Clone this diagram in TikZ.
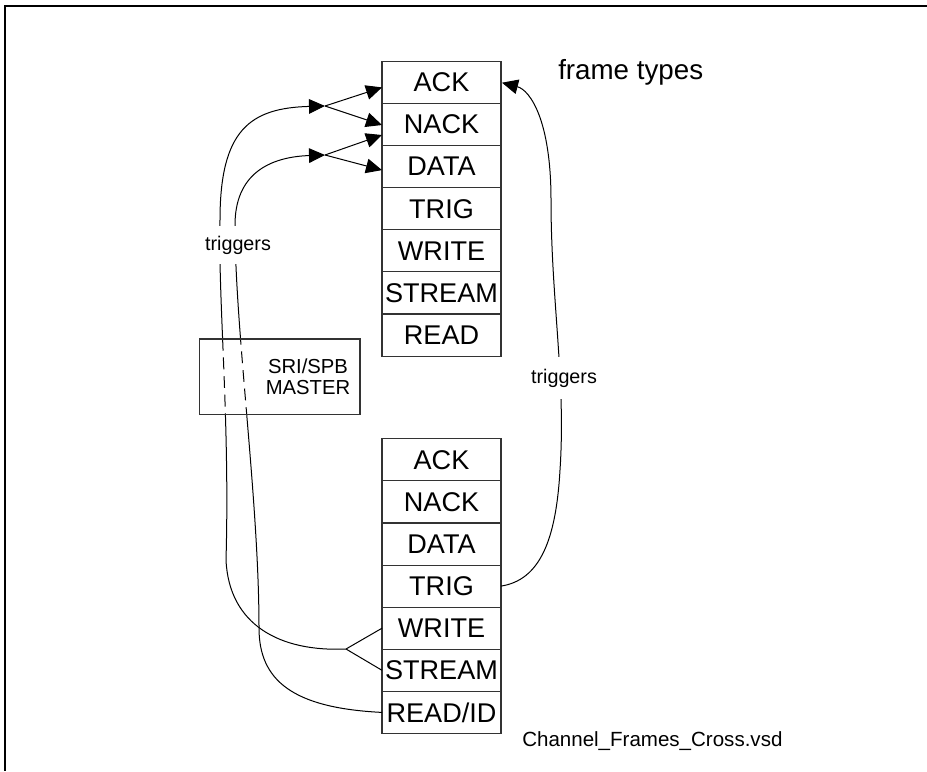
\documentclass[tikz,border=0pt]{standalone}
\usepackage{fontspec}
\setmainfont{Liberation Sans}
\usetikzlibrary{arrows.meta,calc}
\begin{document}
\begin{tikzpicture}[x=0.75pt,y=-0.75pt,
  frm/.style={draw=black!80,line width=0.8pt,minimum width=89.25pt,minimum height=31.6pt,inner sep=0pt,outer sep=0pt,font=\fontsize{20.3}{22}\selectfont},
  conn/.style={line width=0.75pt},
  tip/.style={-{Triangle[length=12pt,width=11pt]}},
  lbl/.style={font=\fontsize{14.8}{17}\selectfont},
  gaplbl/.style={lbl,fill=white,inner xsep=1pt,inner ysep=7pt}]
\useasboundingbox (0,0) rectangle (927,771);
% page border
\draw[line width=0.9pt] (5,6) -- (927,6);
\draw[line width=0.9pt] (5,5) -- (5,771);
% top stack
\node[frm] (a1) at (441.5,82.4) {ACK};
\node[frm] (n1) at (441.5,124.5) {NACK};
\node[frm] (d1) at (441.5,166.6) {DATA};
\node[frm] (t1) at (441.5,208.7) {TRIG};
\node[frm] (w1) at (441.5,250.8) {WRITE};
\node[frm] (s1) at (441.5,292.9) {STREAM};
\node[frm] (r1) at (441.5,335.0) {READ};
% bottom stack
\node[frm] (a2) at (441.5,459.8) {ACK};
\node[frm] (n2) at (441.5,501.9) {NACK};
\node[frm] (d2) at (441.5,544.0) {DATA};
\node[frm] (t2) at (441.5,586.1) {TRIG};
\node[frm] (w2) at (441.5,628.2) {WRITE};
\node[frm] (s2) at (441.5,670.3) {STREAM};
\node[frm] (r2) at (441.5,712.4) {READ/ID};
% coordinates
\coordinate (J1) at (346,649);
\coordinate (F1) at (325,106);
\coordinate (F2) at (325,155);
% outer curve: WRITE/STREAM -> ACK/NACK
\draw[conn] (J1) -- (w2.west);
\draw[conn] (J1) -- (s2.west);
\draw[conn,tip] (J1) .. controls (280,652) and (229,625) .. (226,560)
  .. controls (230,420) and (218,300) .. (220,220)
  .. controls (220,130) and (250,108) .. (F1);
\draw[conn,tip] (F1) -- ($(a1.west)+(0,5)$);
\draw[conn,tip] (F1) -- ($(n1.west)+(0,0.5)$);
% inner curve: READ/ID -> NACK/DATA
\draw[conn,tip] (r2.west) .. controls (292,708) and (259,680) .. (259,628)
  .. controls (259,500) and (235,330) .. (235,225)
  .. controls (235,175) and (268,157) .. (F2);
\draw[conn,tip] (F2) -- ($(n1.west)+(0,10.5)$);
\draw[conn,tip] (F2) -- ($(d1.west)+(0,3.5)$);
% white dashes where the lines pass the master box
\begin{scope}
\clip (199.5,339) rectangle (360,414.5);
\draw[white,line width=2pt,dash pattern=on 5pt off 9pt,dash phase=2pt]
  (226,560) .. controls (230,420) and (218,300) .. (220,220);
\draw[white,line width=2pt,dash pattern=on 5pt off 9pt,dash phase=2pt]
  (259,628) .. controls (259,500) and (235,330) .. (235,225);
\end{scope}
% master box
\draw[draw=black!80,line width=0.8pt] (199.5,339) rectangle (360,414.5);
\node[align=center,font=\fontsize{15.2}{15.8}\selectfont] (m) at (308,377) {SRI/SPB\\MASTER};
% right curve: TRIG -> ACK
\draw[conn,tip] (t2.east) .. controls (540,580) and (556,540) .. (560,470)
  .. controls (566,380) and (551,300) .. (551,200)
  .. controls (551,120) and (530,90) .. ($(a1.east)+(1,0.3)$);
% labels
\node[gaplbl] (tl) at (238,245) {triggers};
\node[gaplbl,inner ysep=9pt] (tr) at (564,378) {triggers};
\node[font=\fontsize{20.8}{24}\selectfont,anchor=west,inner sep=0pt] (ft) at (558,72) {frame types};
\node[anchor=west,inner sep=0pt,font=\fontsize{15.4}{18}\selectfont] (fn) at (522,741) {Channel\_Frames\_Cross.vsd};
\end{tikzpicture}
\end{document}
